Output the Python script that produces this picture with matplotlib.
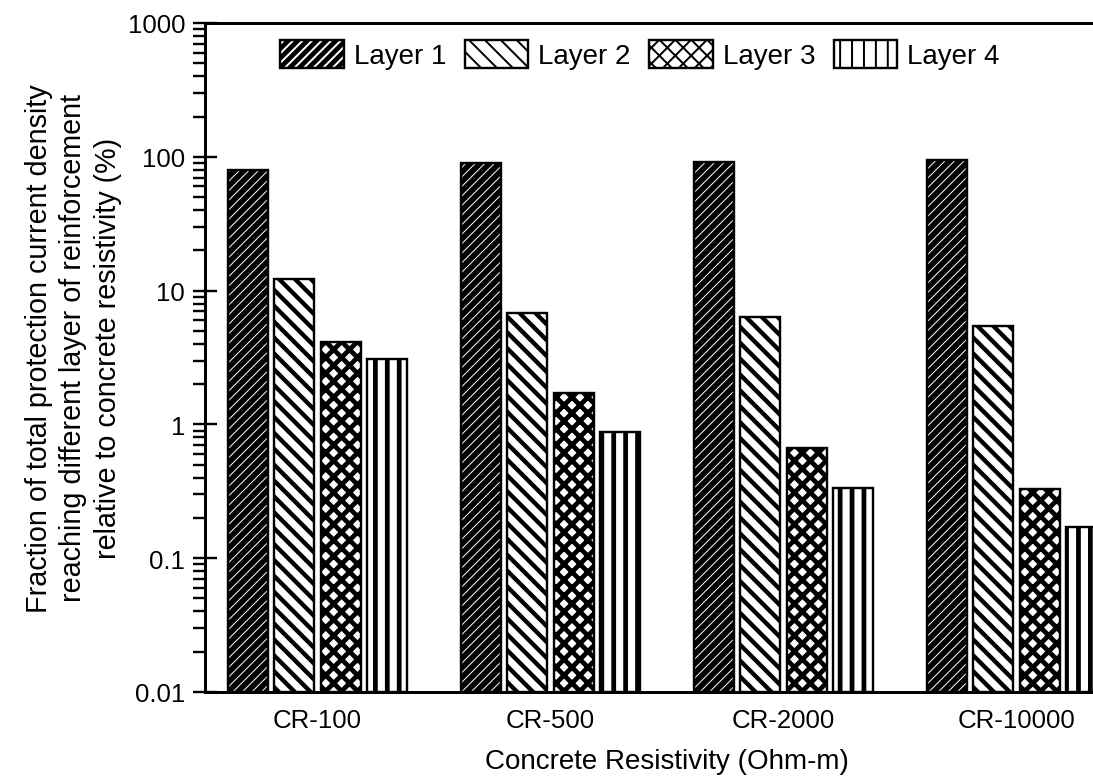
import matplotlib.pyplot as plt
import numpy as np
from matplotlib.patches import Patch
from matplotlib.ticker import FuncFormatter, LogLocator, NullFormatter

plt.rcParams['font.family'] = ['Liberation Sans', 'DejaVu Sans']

# data (percent)
groups = ['CR-100', 'CR-500', 'CR-2000', 'CR-10000']
layers = ['Layer 1', 'Layer 2', 'Layer 3', 'Layer 4']
layer1 = [79, 90.5, 92, 94]
layer2 = [12.3, 6.8, 6.3, 5.4]
layer3 = [4.1, 1.7, 0.66, 0.32]
layer4 = [3.06, 0.86, 0.327, 0.16]
values = [layer1, layer2, layer3, layer4]

# (facecolor, hatch colour, hatch, hatch linewidth)
styles = [
    ('black', 'white', '/////', 0.5),
    ('white', 'black', '\\\\\\', 2.2),
    ('white', 'black', 'xxx', 2.4),
    ('white', 'black', '||', 2.4),
]

DPI = 143
fig = plt.figure(figsize=(1093 / DPI, 780 / DPI), dpi=DPI)
ax = fig.add_axes([205 / 1093, 87 / 780, (1129 - 205) / 1093, 669 / 780])

x = np.arange(len(groups))
pitch = 0.2
width = 0.172
handles = []
for i, (vals, st) in enumerate(zip(values, styles)):
    fc, hc, hatch, hlw = st
    pos = x + (i - 1.5) * pitch
    with plt.rc_context({'hatch.linewidth': hlw}):
        ax.bar(pos, vals, width, bottom=0.01, facecolor=fc, edgecolor=hc,
               hatch=hatch, linewidth=0)
        h1 = Patch(facecolor=fc, edgecolor=hc, hatch=hatch, linewidth=0)
    ax.bar(pos, vals, width, bottom=0.01, fill=False, edgecolor='black', linewidth=1.2)
    h2 = Patch(fill=False, edgecolor='black', linewidth=1.2)
    handles.append((h1, h2))

ax.set_yscale('log')
ax.set_ylim(0.01, 1000)
ax.set_xlim(-0.483, 3.483)
ax.yaxis.set_major_locator(LogLocator(base=10, numticks=10))
ax.yaxis.set_minor_locator(LogLocator(base=10, subs=np.arange(2, 10), numticks=10))
ax.yaxis.set_minor_formatter(NullFormatter())
ax.yaxis.set_major_formatter(FuncFormatter(lambda v, p: '{:g}'.format(v)))

ax.set_xticks(x)
ax.set_xticklabels(groups)
ax.tick_params(axis='x', length=0, pad=8, labelsize=13)
ax.tick_params(axis='y', which='major', direction='inout', length=12, width=1.2, labelsize=13, pad=4)
ax.tick_params(axis='y', which='minor', direction='out', length=6, width=1.2)
for s in ax.spines.values():
    s.set_linewidth(1.5)

ax.set_xlabel('Concrete Resistivity (Ohm-m)', fontsize=14, labelpad=8)
ax.set_ylabel('Fraction of total protection current density\n'
              'reaching different layer of reinforcement\n'
              'relative to concrete resistivity (%)', fontsize=14.5,
              linespacing=1.3)
ax.yaxis.set_label_coords(-0.09, 0.515)

ax.legend(handles, layers, loc='center', bbox_to_anchor=(640 / 1093, 1 - 55.5 / 780),
          bbox_transform=fig.transFigure, ncol=4, frameon=False, fontsize=14,
          handlelength=2.27, handleheight=1.19, handletextpad=0.36, columnspacing=0.68)

fig.savefig('out.png', dpi=DPI)
